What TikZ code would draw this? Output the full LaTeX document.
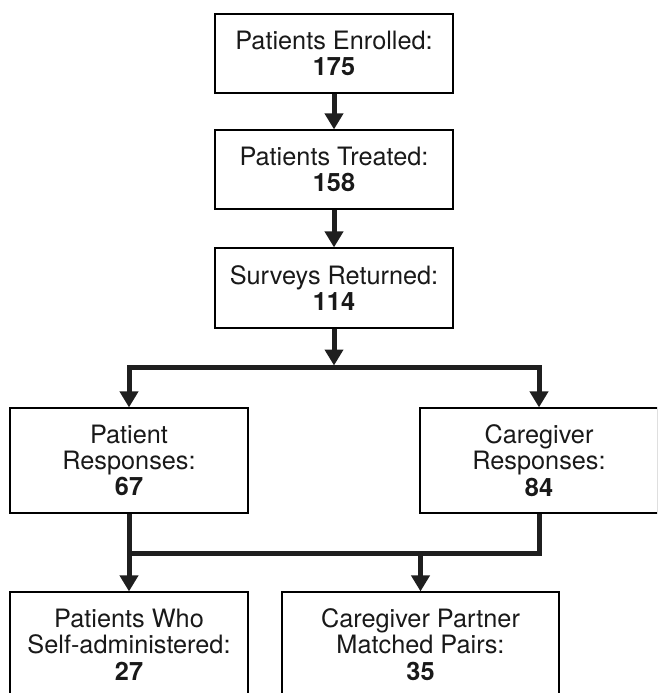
\documentclass[tikz,border=0pt]{standalone}
\usepackage{fontspec}
\setmainfont{TeX Gyre Heros}
\usetikzlibrary{arrows.meta}
\begin{document}
\begin{tikzpicture}[x=1pt,y=-1pt,
  box/.style={draw, line width=1.2pt, inner sep=0pt, align=center,
    font=\fontsize{25.3}{26.3}\selectfont, text=black!90},
  conn/.style={line width=5pt, draw=black!88, line join=miter},
  arr/.style={conn, -{Triangle[width=18pt,length=16pt]}}]
\useasboundingbox (0,0) rectangle (657,693);
\clip (0,0) rectangle (657,693);
\node[box, minimum width=238pt, minimum height=79pt] (b1) at (334,53.5) {Patients Enrolled:\\\textbf{175}};
\node[box, minimum width=238pt, minimum height=79pt] (b2) at (334,169.5) {Patients Treated:\\\textbf{158}};
\node[box, minimum width=238pt, minimum height=80pt] (b3) at (334,288) {Surveys Returned:\\\textbf{114}};
\node[box, minimum width=238pt, minimum height=105pt] (pr) at (129,460.5) {Patient\\Responses:\\\textbf{67}};
\node[box, minimum width=238pt, minimum height=105pt] (cr) at (539,460.5) {Caregiver\\Responses:\\\textbf{84}};
\node[box, minimum width=238pt, minimum height=105pt] (pw) at (129,644.5) {Patients Who\\Self-administered:\\\textbf{27}};
\node[box, minimum width=277pt, minimum height=105pt] (mp) at (420.5,644.5) {Caregiver Partner\\Matched Pairs:\\\textbf{35}};
\coordinate (h1) at (334,367.5);
\coordinate (h1top) at (334,365.5);
\coordinate (h2) at (129,553);
\coordinate (h2m) at (420.5,553);
\draw[arr] (b1) -- (b2);
\draw[arr] (b2) -- (b3);
\draw[arr] (b3) -- (h1top);
\draw[arr] (h1) -| (pr.north);
\draw[arr] (h1) -| (cr.north);
\draw[arr] (pr) -- (pw);
\draw[conn] (cr.south) |- (h2);
\draw[arr] (h2m) -- (mp.north);
\end{tikzpicture}
\end{document}
